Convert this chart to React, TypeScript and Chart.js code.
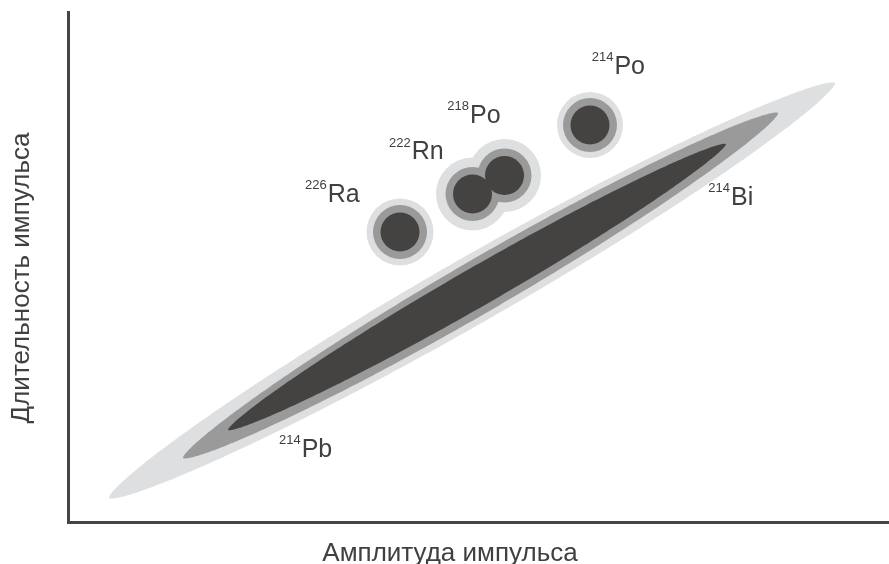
import React, { useEffect, useRef } from 'react';
import { Chart, registerables } from 'chart.js';

Chart.register(...registerables);

// Cluster centres (pulse amplitude, pulse duration), relative units 0–100
const clusterNames = ['226Ra', '222Rn', '218Po', '214Po'];
const clusterAmplitude = [40.44, 49.27, 53.17, 63.58];
const clusterDuration = [56.86, 64.31, 67.94, 77.84];
// bubble radii (px) of the three density levels of each cluster
const coreRadius = [19.5, 19.5, 19.5, 19.5];
const midRadius = [27, 27, 27, 27];
const haloRadius = [33.5, 36.5, 36.5, 33];

// 214Pb / 214Bi elongated band: tips of each density contour
const bandLevels = ['outer', 'middle', 'core'];
const bandStartX = [4.99, 14.01, 19.49];
const bandStartY = [4.71, 12.55, 18.04];
const bandEndX = [93.42, 86.48, 80.15];
const bandEndY = [86.08, 80.2, 74.12];

// isotope labels: mass number, element, anchor (amplitude, duration)
const labelMass = ['226', '222', '218', '214', '214', '214'];
const labelElement = ['Ra', 'Rn', 'Po', 'Po', 'Bi', 'Pb'];
const labelX = [28.87, 39.1, 46.2, 63.79, 77.99, 25.7];
const labelY = [62.75, 71.08, 78.33, 87.94, 62.25, 12.84];

const xTitle = 'Амплитуда импульса';
const yTitle = 'Длительность импульса';

// styles
const LIGHT = '#dedfe0';
const MID = '#9a9a9a';
const DARK = '#454342';
const AXIS = '#454545';
const TEXT = '#404040';
const FONT = "'Liberation Sans', Arial, sans-serif";
const bandColors = [LIGHT, MID, DARK];
const bandHalfWidth = [33, 26.5, 19.5];
const bandTaper = 1.25;

const bandPlugin = {
  id: 'band',
  beforeDatasetsDraw(chart: any) {
    const { ctx, scales } = chart;
    const xs = scales.x;
    const ys = scales.y;
    ctx.save();
    for (let i = 0; i < bandLevels.length; i++) {
      const x1 = xs.getPixelForValue(bandStartX[i]);
      const y1 = ys.getPixelForValue(bandStartY[i]);
      const x2 = xs.getPixelForValue(bandEndX[i]);
      const y2 = ys.getPixelForValue(bandEndY[i]);
      const cx = (x1 + x2) / 2;
      const cy = (y1 + y2) / 2;
      const a = Math.hypot(x2 - x1, y2 - y1) / 2;
      const ang = Math.atan2(y2 - y1, x2 - x1);
      const b = bandHalfWidth[i];
      const ca = Math.cos(ang);
      const sa = Math.sin(ang);
      ctx.beginPath();
      const N = 360;
      for (let k = 0; k <= N; k++) {
        const t = (k / N) * Math.PI * 2;
        const u = a * Math.cos(t);
        const s = Math.sin(t);
        const v = b * Math.sign(s) * Math.pow(Math.abs(s), bandTaper);
        const px = cx + u * ca - v * sa;
        const py = cy + u * sa + v * ca;
        if (k === 0) ctx.moveTo(px, py);
        else ctx.lineTo(px, py);
      }
      ctx.closePath();
      ctx.fillStyle = bandColors[i];
      ctx.fill();
    }
    ctx.restore();
  },
};

const textPlugin = {
  id: 'texts',
  afterDraw(chart: any) {
    const { ctx, scales } = chart;
    const xs = scales.x;
    const ys = scales.y;
    ctx.save();
    ctx.fillStyle = TEXT;
    ctx.textBaseline = 'alphabetic';
    ctx.textAlign = 'left';
    for (let i = 0; i < labelMass.length; i++) {
      const px = xs.getPixelForValue(labelX[i]);
      const py = ys.getPixelForValue(labelY[i]);
      ctx.font = `13px ${FONT}`;
      ctx.fillText(labelMass[i], px, py - 12.5);
      const w = ctx.measureText(labelMass[i]).width;
      ctx.font = `25px ${FONT}`;
      ctx.fillText(labelElement[i], px + w + 1, py);
    }
    // axis titles
    ctx.font = `26px ${FONT}`;
    ctx.textAlign = 'center';
    ctx.fillText(xTitle, 450, 561);
    ctx.translate(29, 278);
    ctx.rotate(-Math.PI / 2);
    ctx.fillText(yTitle, 0, 0);
    ctx.restore();
  },
};

function makePoints(r: number[]) {
  return clusterAmplitude.map((v, i) => ({ x: v, y: clusterDuration[i], r: r[i] }));
}

export default function App() {
  const ref = useRef<HTMLCanvasElement | null>(null);
  useEffect(() => {
    if (!ref.current) return;
    const chart = new Chart(ref.current, {
      type: 'bubble',
      data: {
        datasets: [
          {
            label: 'core',
            data: makePoints(coreRadius),
            backgroundColor: DARK,
            borderWidth: 0,
            order: 1,
          },
          {
            label: 'middle',
            data: makePoints(midRadius),
            backgroundColor: MID,
            borderWidth: 0,
            order: 2,
          },
          {
            label: 'halo',
            data: makePoints(haloRadius),
            backgroundColor: LIGHT,
            borderWidth: 0,
            order: 3,
          },
        ],
      },
      options: {
        animation: false,
        responsive: false,
        devicePixelRatio: 1,
        events: [],
        layout: { autoPadding: false, padding: { left: 68, top: 12, right: 0, bottom: 42 } },
        plugins: {
          legend: { display: false },
          tooltip: { enabled: false },
        },
        scales: {
          x: {
            type: 'linear',
            min: 0,
            max: 100,
            grid: { display: false, drawTicks: false },
            ticks: { display: false },
            border: { display: true, color: AXIS, width: 3 },
          },
          y: {
            type: 'linear',
            min: 0,
            max: 100,
            grid: { display: false, drawTicks: false },
            ticks: { display: false },
            border: { display: true, color: AXIS, width: 3 },
          },
        },
      },
      plugins: [bandPlugin, textPlugin],
    } as any);
    return () => chart.destroy();
  }, []);
  return (
    <div style={{ position: 'fixed', left: 0, top: 0, width: 889, height: 564, background: '#fff' }}>
      <canvas ref={ref} width={889} height={564} />
    </div>
  );
}
